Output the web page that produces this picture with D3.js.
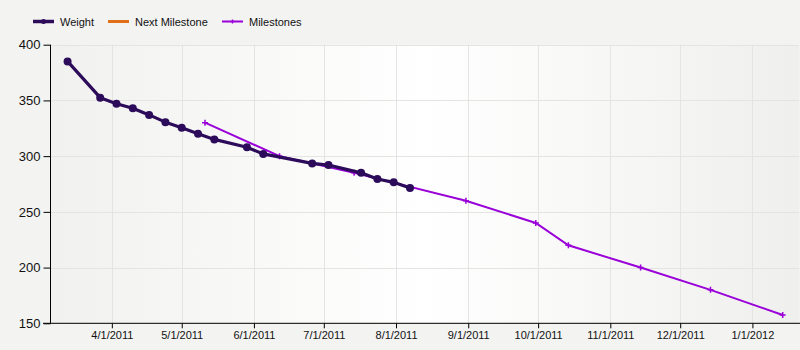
<!DOCTYPE html>
<html><head><meta charset="utf-8">
<script src="https://cdn.jsdelivr.net/npm/d3@7"></script>
<style>
html,body{margin:0;padding:0;background:#f3f3f1;}
svg{display:block;font-family:"Liberation Sans",Arial,sans-serif;}
</style></head>
<body><svg id="c" width="800" height="350"></svg>
<script>
const weightDates = ["2011-03-13","2011-03-27","2011-04-03","2011-04-10","2011-04-17","2011-04-24","2011-05-01","2011-05-08","2011-05-15","2011-05-29","2011-06-05","2011-06-26","2011-07-03","2011-07-17","2011-07-24","2011-07-31","2011-08-07"];
const weightValues = [385,352.5,347,343,337,330.5,325.5,320,315,308,302,293.5,292,285,279.5,276.5,271.5];
const milestoneDates = ["2011-05-11","2011-06-12","2011-07-14","2011-08-31","2011-09-30","2011-10-14","2011-11-14","2011-12-14","2012-01-14"];
const milestoneValues = [330,300,285,260,240,220,200,180,157.5];
const nextMilestoneDates = [];
const nextMilestoneValues = [];
const yTicks = [150,200,250,300,350,400];
const xTickDates = ["2011-04-01","2011-05-01","2011-06-01","2011-07-01","2011-08-01","2011-09-01","2011-10-01","2011-11-01","2011-12-01","2012-01-01"];
const legendNames = ["Weight","Next Milestone","Milestones"];
const colors = {weight:"#2c0b5a", next:"#e07018", milestones:"#9a00d8"};

const parse = s => { const [yy,m,d]=s.split("-").map(Number); return new Date(yy,m-1,d); };
const svg = d3.select("#c");
const pL = 50.5, pR = 799, pT = 44.7, pB = 323.3;

const x = d3.scaleTime().domain([new Date(2011,2,5,16), new Date(2012,0,21)]).range([pL, pR]);
const y = d3.scaleLinear().domain([150,400]).range([pB, pT]);

const defs = svg.append("defs");
const g = defs.append("linearGradient").attr("id","bg").attr("x1","0").attr("x2","1").attr("y1","0").attr("y2","0");
g.append("stop").attr("offset","0").attr("stop-color","#f1f1ef");
g.append("stop").attr("offset","0.5").attr("stop-color","#ffffff");
g.append("stop").attr("offset","1").attr("stop-color","#efefed");
svg.append("rect").attr("x",pL).attr("y",pT).attr("width",pR-pL).attr("height",pB-pT).attr("fill","url(#bg)");

// grid
svg.append("g").selectAll("line").data(yTicks).join("line")
  .attr("x1",pL).attr("x2",pR).attr("y1",d=>Math.round(y(d))+0.5).attr("y2",d=>Math.round(y(d))+0.5)
  .attr("stroke","#e4e4e2").attr("stroke-width",1);
svg.append("g").selectAll("line").data(xTickDates.map(parse)).join("line")
  .attr("y1",pT).attr("y2",pB).attr("x1",d=>Math.round(x(d))+0.5).attr("x2",d=>Math.round(x(d))+0.5)
  .attr("stroke","#e4e4e2").attr("stroke-width",1);

// axes
const yAxis = svg.append("g").attr("transform",`translate(${pL},0)`)
  .call(d3.axisLeft(y).tickValues(yTicks).tickSize(7).tickSizeOuter(0).tickPadding(3));
yAxis.select(".domain").remove();
yAxis.selectAll("text").attr("font-size","13px").attr("fill","#111").attr("font-family","Liberation Sans, Arial, sans-serif");
svg.append("line").attr("x1",pL).attr("x2",pL).attr("y1",pT).attr("y2",pB).attr("stroke","#000");

const xAxis = svg.append("g").attr("transform",`translate(0,${pB})`)
  .call(d3.axisBottom(x).tickValues(xTickDates.map(parse)).tickFormat(d3.timeFormat("%-m/%-d/%Y")).tickSize(5).tickSizeOuter(0).tickPadding(3));
xAxis.select(".domain").remove();
xAxis.selectAll("text").attr("font-size","11px").attr("fill","#111").attr("font-family","Liberation Sans, Arial, sans-serif");
svg.append("line").attr("x1",43).attr("x2",800).attr("y1",pB).attr("y2",pB).attr("stroke","#000");

// series
const line = d3.line().x(d=>x(d[0])).y(d=>y(d[1]));
const mData = milestoneDates.map((d,i)=>[parse(d),milestoneValues[i]]);
const wData = weightDates.map((d,i)=>[parse(d),weightValues[i]]);
const nData = nextMilestoneDates.map((d,i)=>[parse(d),nextMilestoneValues[i]]);

svg.append("path").datum(mData).attr("d",line).attr("fill","none").attr("stroke",colors.milestones).attr("stroke-width",2);
svg.append("g").selectAll("path").data(mData).join("path")
  .attr("d",d=>`M${x(d[0])-3},${y(d[1])}h6M${x(d[0])},${y(d[1])-3}v6`)
  .attr("stroke",colors.milestones).attr("stroke-width",1.5);

if (nData.length) svg.append("path").datum(nData).attr("d",line).attr("fill","none").attr("stroke",colors.next).attr("stroke-width",3);

svg.append("path").datum(wData).attr("d",line).attr("fill","none").attr("stroke",colors.weight).attr("stroke-width",3.2).attr("stroke-linejoin","round");
svg.append("g").selectAll("circle").data(wData).join("circle")
  .attr("cx",d=>x(d[0])).attr("cy",d=>y(d[1])).attr("r",4).attr("fill",colors.weight);

// legend
const legend = svg.append("g").attr("font-size","11px").attr("font-family","Liberation Sans, Arial, sans-serif");
const legItems = [
  {name:legendNames[0], x:33, color:colors.weight, w:3.5, marker:"dot"},
  {name:legendNames[1], x:108, color:colors.next, w:3, marker:null},
  {name:legendNames[2], x:222, color:colors.milestones, w:2, marker:"plus"}
];
legItems.forEach(it=>{
  legend.append("line").attr("x1",it.x).attr("x2",it.x+21).attr("y1",21.5).attr("y2",21.5).attr("stroke",it.color).attr("stroke-width",it.w);
  if (it.marker==="dot") legend.append("circle").attr("cx",it.x+10.5).attr("cy",21.5).attr("r",2.5).attr("fill",it.color);
  if (it.marker==="plus") legend.append("path").attr("d",`M${it.x+8.5},21.5h4M${it.x+10.5},19.5v4`).attr("stroke",it.color).attr("stroke-width",1.3);
  legend.append("text").attr("x",it.x+27).attr("y",25.5).attr("fill","#111").text(it.name);
});
</script></body></html>
